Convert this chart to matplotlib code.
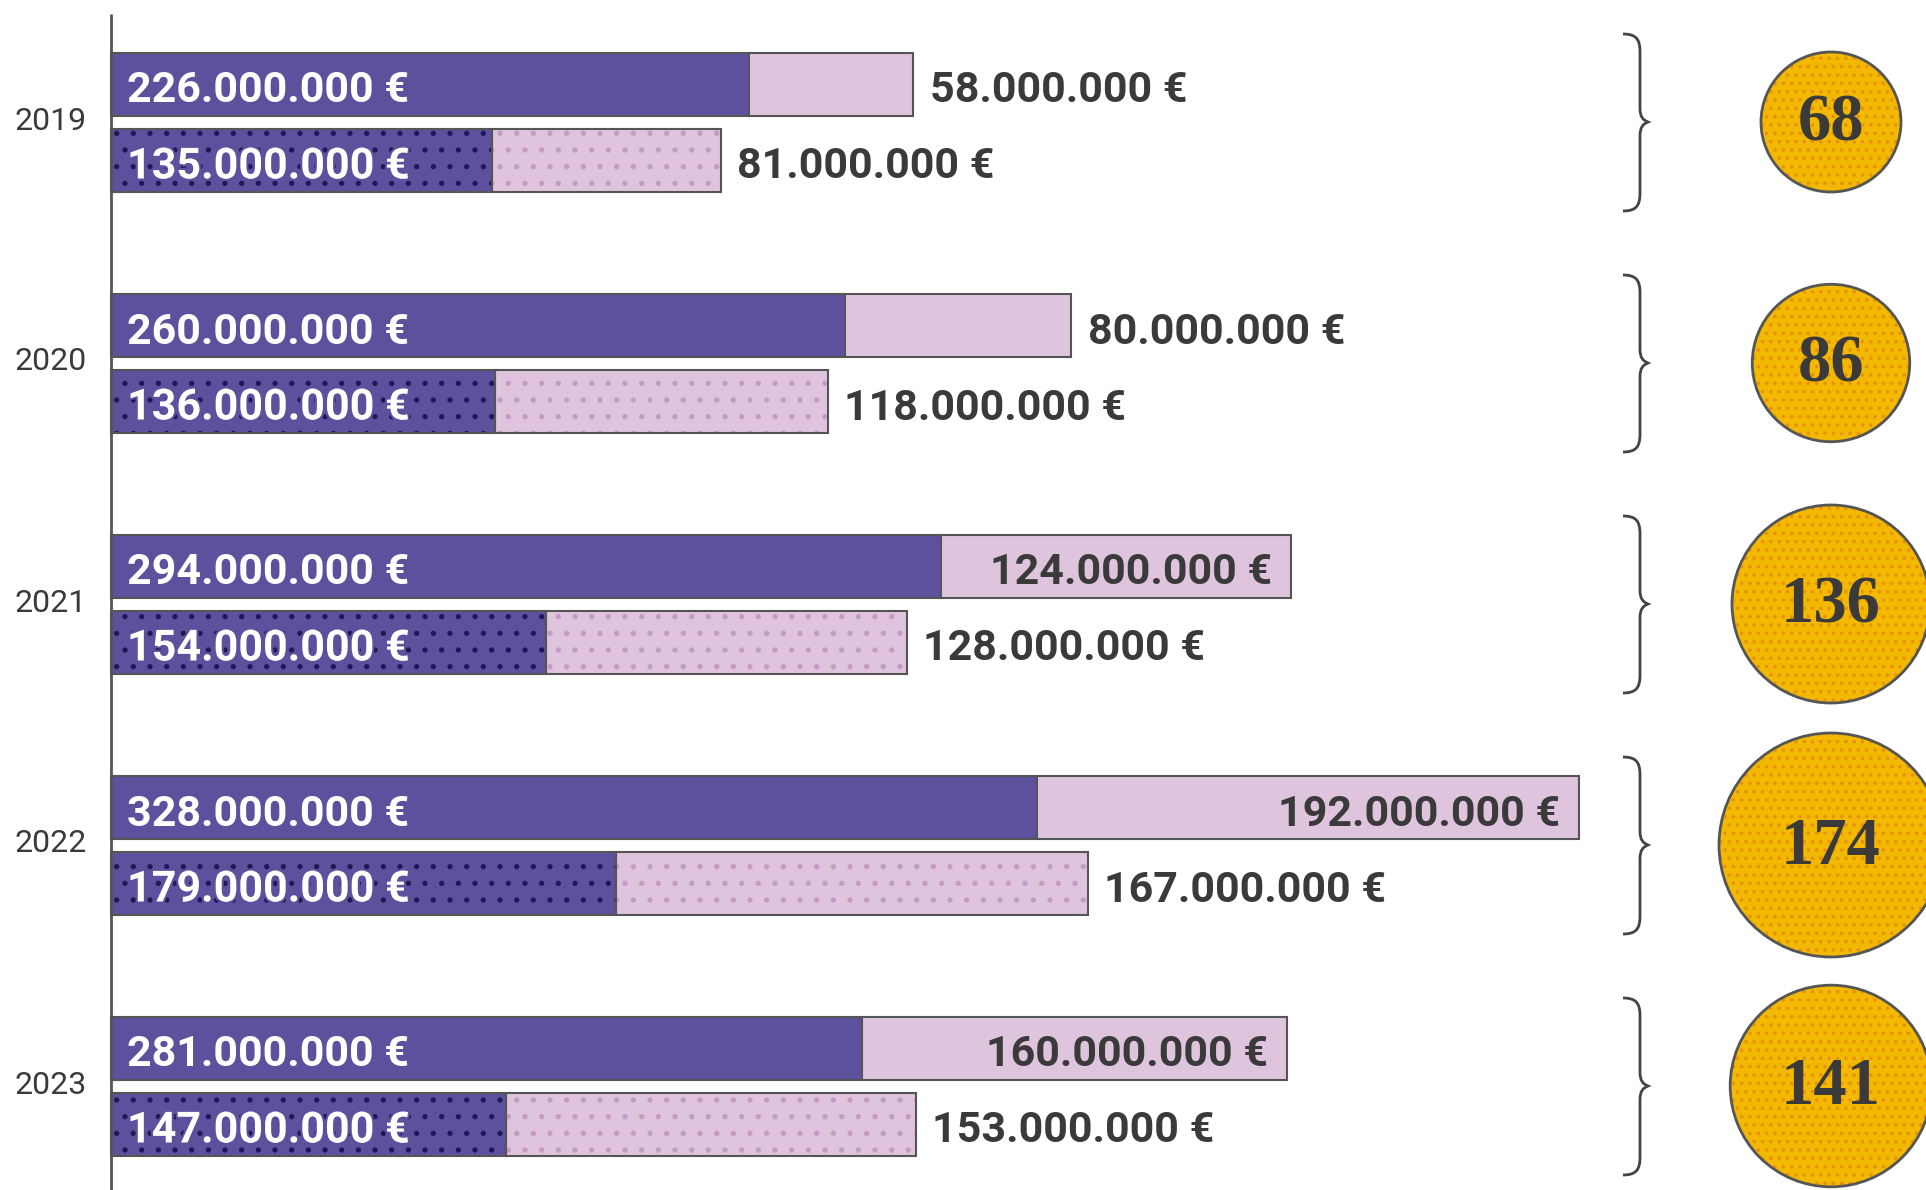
import matplotlib
matplotlib.use("Agg")
import matplotlib.pyplot as plt
from matplotlib.patches import Circle, PathPatch
from matplotlib.path import Path
import matplotlib.patheffects as pe
import numpy as np

# ───────────────────────────────
# DATOS (millones de euros)
anios = ["2019", "2020", "2021", "2022", "2023"]
arriba_base = [226, 260, 294, 328, 281]
arriba_extra = [58, 80, 124, 192, 160]
abajo_base = [135, 136, 154, 179, 147]
abajo_extra = [81, 118, 128, 167, 153]
circulos = [68, 86, 136, 174, 141]

# largo dibujado de cada barra (en 2023 el original no va a escala)
largo_arriba_base = [226, 260, 294, 328, 266]
largo_arriba_extra = [58, 80, 124, 192, 150.5]
largo_abajo_base = [135, 136, 154, 179, 140]
largo_abajo_extra = [81, 118, 128, 167, 145]

# ───────────────────────────────
# ESTILO
MORADO = "#5D519E"
ROSA = "#DEC4DC"
PUNTO_MORADO = "#1E1856"
PUNTO_ROSA = "#C79AC4"
AMARILLO = "#F3B900"
PUNTO_AMARILLO = "#E8920C"
BORDE = "#555555"
TEXTO = "#3a3a3a"

W, H = 1926, 1190
PX = 2.823          # pixeles por millon
PT = 0.72           # 1 px en puntos (dpi 100)
plt.rcParams["hatch.linewidth"] = 1.4


def euros(v):
    return f"{v * 1_000_000:,}".replace(",", ".") + " €"


fig = plt.figure(figsize=(W / 100, H / 100), dpi=100)
ax = fig.add_axes([0, 0, 1, 1])
ax.set_xlim(-111 / PX, (W - 111) / PX)
ax.set_ylim(H, 0)
ax.axis("off")

centros = 122 + 241 * np.arange(len(anios))
alto = 63
DY = -7 * PT

# eje vertical
ax.plot([0, 0], [14, H], color=BORDE, lw=2, solid_capstyle="butt")

kw = dict(fontfamily="Roboto", fontweight="bold", fontsize=31,
          va="center", textcoords="offset points")
halo = [pe.withStroke(linewidth=3, foreground=MORADO)]

for i, anio in enumerate(anios):
    yc = centros[i]
    y1, y2 = yc - 38, yc + 38
    a1, a2 = largo_arriba_base[i], largo_arriba_extra[i]
    b1, b2 = largo_abajo_base[i], largo_abajo_extra[i]

    # barra de arriba (lisa)
    ax.barh(y1, a1, height=alto, color=MORADO, edgecolor=BORDE, lw=1.5)
    ax.barh(y1, a2, left=a1, height=alto, color=ROSA, edgecolor=BORDE, lw=1.5)

    # barra de abajo (punteada)
    ax.barh(y2, b1, height=alto, color=MORADO, edgecolor=PUNTO_MORADO, lw=0, hatch=".")
    ax.barh(y2, b2, left=b1, height=alto, color=ROSA, edgecolor=PUNTO_ROSA, lw=0, hatch=".")
    ax.barh(y2, b1, height=alto, fill=False, edgecolor=BORDE, lw=1.5)
    ax.barh(y2, b2, left=b1, height=alto, fill=False, edgecolor=BORDE, lw=1.5)

    # etiquetas
    ax.annotate(euros(arriba_base[i]), (0, y1), xytext=(16 * PT, DY),
                color="white", ha="left", **kw)
    ax.annotate(euros(abajo_base[i]), (0, y2), xytext=(16 * PT, DY),
                color="white", ha="left", path_effects=halo, **kw)

    if arriba_extra[i] >= 100:
        ax.annotate(euros(arriba_extra[i]), (a1 + a2, y1), xytext=(-19 * PT, DY),
                    color=TEXTO, ha="right", **kw)
    else:
        ax.annotate(euros(arriba_extra[i]), (a1 + a2, y1), xytext=(17 * PT, DY),
                    color=TEXTO, ha="left", **kw)
    ax.annotate(euros(abajo_extra[i]), (b1 + b2, y2), xytext=(16 * PT, DY),
                color=TEXTO, ha="left", **kw)

    ax.annotate(anio, (0, yc), xytext=(-24 * PT, 1 * PT), textcoords="offset points",
                ha="right", va="center", fontfamily="Roboto", fontsize=23, color=TEXTO)

# ───────────────────────────────
# LLAVES Y CIRCULOS (coordenadas en pixeles)
ov = fig.add_axes([0, 0, 1, 1])
ov.set_xlim(0, W)
ov.set_ylim(H, 0)
ov.axis("off")

xt, xs, xp = 1623, 1640, 1648
for i, yc in enumerate(centros):
    top, bot = yc - 88, yc + 89
    verts = [
        (xt, top), (xt + 13, top), (xs, top + 5), (xs, top + 18),
        (xs, yc - 14),
        (xs, yc - 5), (xs + 3, yc - 2), (xp, yc),
        (xs + 3, yc + 2), (xs, yc + 5), (xs, yc + 14),
        (xs, bot - 18),
        (xs, bot - 5), (xt + 13, bot), (xt, bot),
    ]
    codes = [Path.MOVETO, Path.CURVE4, Path.CURVE4, Path.CURVE4,
             Path.LINETO,
             Path.CURVE4, Path.CURVE4, Path.CURVE4,
             Path.CURVE4, Path.CURVE4, Path.CURVE4,
             Path.LINETO,
             Path.CURVE4, Path.CURVE4, Path.CURVE4]
    ov.add_patch(PathPatch(Path(verts, codes), fill=False, edgecolor="#444444", lw=2))

    r = 8.49 * np.sqrt(circulos[i])
    ov.add_patch(Circle((1831, yc), r, facecolor=AMARILLO, edgecolor=PUNTO_AMARILLO,
                        lw=0, hatch=".."))
    ov.add_patch(Circle((1831, yc), r, fill=False, edgecolor=BORDE, lw=2))
    ov.text(1831, yc + 2, str(circulos[i]), ha="center", va="center",
            fontfamily="Liberation Serif", fontweight="bold", fontsize=48, color=TEXTO)

fig.savefig("out.png", dpi=100)
